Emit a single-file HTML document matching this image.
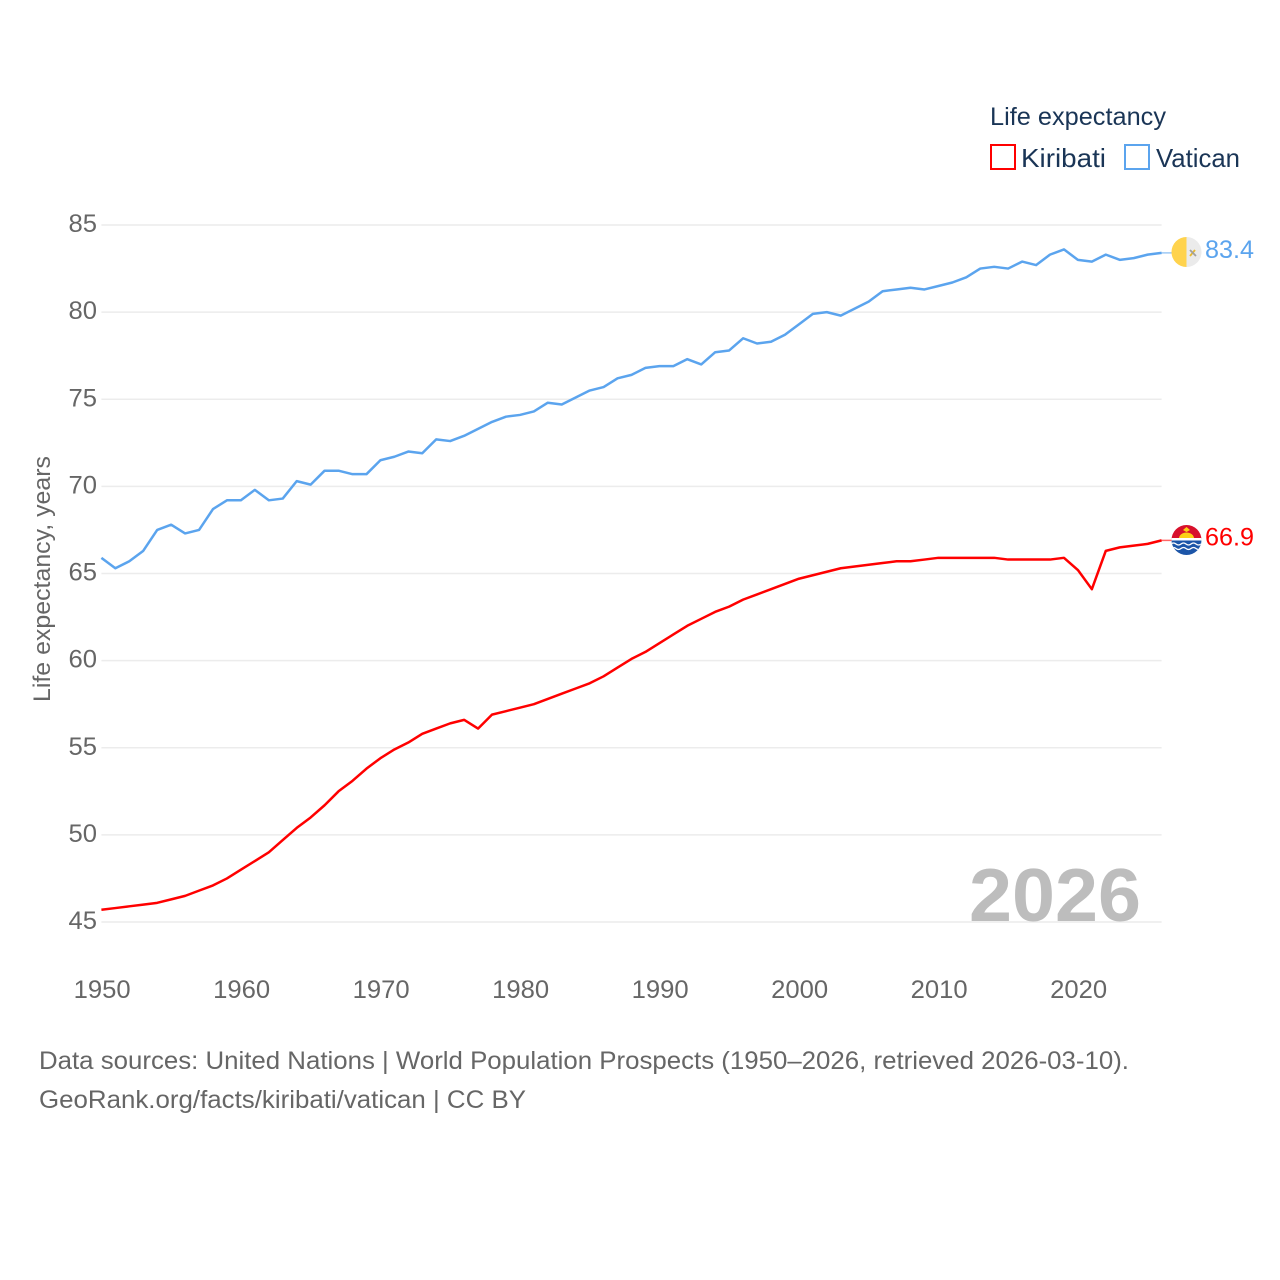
<!DOCTYPE html>
<html lang="en">
<head>
<meta charset="utf-8">
<title>Life expectancy: Kiribati and Vatican</title>
<style>
html,body{margin:0;padding:0;background:#fff;width:1280px;height:1280px;overflow:hidden}
svg{display:block}
text{font-family:"Liberation Sans",sans-serif}
</style>
</head>
<body>
<svg id="chart" xmlns="http://www.w3.org/2000/svg" width="1280" height="1280" viewBox="0 0 1280 1280">
  <defs>
    <clipPath id="flag-clip-k"><circle cx="1186.500" cy="540" r="15"/></clipPath>
    <clipPath id="flag-clip-v"><circle cx="1186.500" cy="252" r="15"/></clipPath>
  </defs>
  <rect width="1280" height="1280" fill="#fff"/>
  <g id="grid"></g>
  <g id="y-ticks"></g>
  <g id="x-ticks"></g>
  <text transform="translate(50 702) rotate(-90)" font-size="24" fill="#666" textLength="246" lengthAdjust="spacingAndGlyphs">Life expectancy, years</text>
  <text x="969" y="921" font-size="75" font-weight="700" fill="#bdbdbd" textLength="172" lengthAdjust="spacingAndGlyphs">2026</text>
  <g id="series"></g>

  <g clip-path="url(#flag-clip-v)">
    <rect x="1171" y="237" width="15.500" height="30" fill="#ffd34d"/>
    <rect x="1186.500" y="237" width="15" height="30" fill="#ebebeb"/>
    <path d="M1190 256l5-6" stroke="#e8b92e" stroke-width="1.800" fill="none"/>
    <path d="M1190 250l6 6" stroke="#a0a0a0" stroke-width="1.800" fill="none"/>
  </g>
  <g clip-path="url(#flag-clip-k)">
    <rect x="1171" y="525" width="31" height="15" fill="#d8102c"/>
    <rect x="1171" y="540" width="31" height="15" fill="#1c55a8"/>
    <path d="M1179 538.500a7.500 6 0 0 1 15 0z" fill="#fcd116"/>
    <path d="M1183 530l3.500-3 3.500 3-3.500 2z" fill="#fcd116"/>
    <rect x="1171" y="538" width="31" height="2.500" fill="#fff"/>
    <path d="M1171 544q2.500-2 5 0t5 0t5 0t5 0t5 0t5 0" stroke="#fff" stroke-width="1.300" fill="none"/>
    <path d="M1171 548.500q2.500-2 5 0t5 0t5 0t5 0t5 0t5 0" stroke="#fff" stroke-width="1.300" fill="none"/>
  </g>

  <g id="end-labels"></g>

  <g>
    <text x="990" y="125" font-size="25" fill="#1a3556" textLength="176" lengthAdjust="spacingAndGlyphs">Life expectancy</text>
    <g>
      <rect x="991" y="145" width="24" height="24" fill="none" stroke="#ff0000" stroke-width="2"/>
      <text x="1021" y="167" font-size="26" fill="#1a3556" textLength="85" lengthAdjust="spacingAndGlyphs">Kiribati</text>
    </g>
    <g>
      <rect x="1125" y="145" width="24" height="24" fill="none" stroke="#5ba4ee" stroke-width="2"/>
      <text x="1156" y="167" font-size="26" fill="#1a3556" textLength="84" lengthAdjust="spacingAndGlyphs">Vatican</text>
    </g>
  </g>

  <text x="39" y="1069" font-size="25" fill="#666" textLength="1090" lengthAdjust="spacingAndGlyphs">Data sources: United Nations | World Population Prospects (1950–2026, retrieved 2026-03-10).</text>
  <text x="39" y="1108" font-size="25" fill="#666" textLength="487" lengthAdjust="spacingAndGlyphs">GeoRank.org/facts/kiribati/vatican | CC BY</text>
</svg>
<script>
const startYear = 1950;
const xTickYears = [1950, 1960, 1970, 1980, 1990, 2000, 2010, 2020];
const yTickValues = [45, 50, 55, 60, 65, 70, 75, 80, 85];
const vaticanValues = [65.9, 65.3, 65.7, 66.3, 67.5, 67.8, 67.3, 67.5, 68.7, 69.2,
  69.2, 69.8, 69.2, 69.3, 70.3, 70.1, 70.9, 70.9, 70.7, 70.7,
  71.5, 71.7, 72.0, 71.9, 72.7, 72.6, 72.9, 73.3, 73.7, 74.0,
  74.1, 74.3, 74.8, 74.7, 75.1, 75.5, 75.7, 76.2, 76.4, 76.8,
  76.9, 76.9, 77.3, 77.0, 77.7, 77.8, 78.5, 78.2, 78.3, 78.7,
  79.3, 79.9, 80.0, 79.8, 80.2, 80.6, 81.2, 81.3, 81.4, 81.3,
  81.5, 81.7, 82.0, 82.5, 82.6, 82.5, 82.9, 82.7, 83.3, 83.6,
  83.0, 82.9, 83.3, 83.0, 83.1, 83.3, 83.4];
const kiribatiValues = [45.7, 45.8, 45.9, 46.0, 46.1, 46.3, 46.5, 46.8, 47.1, 47.5,
  48.0, 48.5, 49.0, 49.7, 50.4, 51.0, 51.7, 52.5, 53.1, 53.8,
  54.4, 54.9, 55.3, 55.8, 56.1, 56.4, 56.6, 56.1, 56.9, 57.1,
  57.3, 57.5, 57.8, 58.1, 58.4, 58.7, 59.1, 59.6, 60.1, 60.5,
  61.0, 61.5, 62.0, 62.4, 62.8, 63.1, 63.5, 63.8, 64.1, 64.4,
  64.7, 64.9, 65.1, 65.3, 65.4, 65.5, 65.6, 65.7, 65.7, 65.8,
  65.9, 65.9, 65.9, 65.9, 65.9, 65.8, 65.8, 65.8, 65.8, 65.9,
  65.2, 64.1, 66.3, 66.5, 66.6, 66.7, 66.9];

const NS = 'http://www.w3.org/2000/svg';
const plotLeft = 101.4, plotRight = 1161.6, plotBottom = 922, plotTop = 225;
const xDomainEnd = 2026, yDomainMin = 45, yDomainMax = 85;
const xScale = year => plotLeft + (year - startYear) / (xDomainEnd - startYear) * (plotRight - plotLeft);
const yScale = value => plotBottom - (value - yDomainMin) / (yDomainMax - yDomainMin) * (plotBottom - plotTop);
const make = (tag, parentId) => {
  const el = document.createElementNS(NS, tag);
  document.getElementById(parentId).appendChild(el);
  return el;
};

yTickValues.forEach(v => {
  const line = make('line', 'grid');
  
  
  line.setAttribute('x1', plotLeft);
  line.setAttribute('x2', plotRight);
  line.setAttribute('y1', yScale(v));
  line.setAttribute('y2', yScale(v));
  line.setAttribute('stroke', '#ececec');
  line.setAttribute('stroke-width', '1.5');

  const label = make('text', 'y-ticks');
  
  
  label.setAttribute('x', 97);
  label.setAttribute('y', yScale(v) + 7);
  label.setAttribute('text-anchor', 'end');
  label.setAttribute('font-size', '25');
  label.setAttribute('fill', '#666');
  label.setAttribute('textLength', '28.5');
  label.setAttribute('lengthAdjust', 'spacingAndGlyphs');
  label.textContent = v;
});

xTickYears.forEach(year => {
  const label = make('text', 'x-ticks');
  
  
  label.setAttribute('x', xScale(year) + 0.8);
  label.setAttribute('y', 998);
  label.setAttribute('text-anchor', 'middle');
  label.setAttribute('font-size', '25');
  label.setAttribute('fill', '#666');
  label.setAttribute('textLength', '57');
  label.setAttribute('lengthAdjust', 'spacingAndGlyphs');
  label.textContent = year;
});

const toPoints = values => values.map((v, i) => xScale(startYear + i).toFixed(2) + ',' + yScale(v).toFixed(2)).join(' ');
const lastValue = values => values[values.length - 1];

const vaticanLine = make('polyline', 'series');


vaticanLine.setAttribute('points', toPoints(vaticanValues));
vaticanLine.setAttribute('fill', 'none');
vaticanLine.setAttribute('stroke', '#5ba4ee');
vaticanLine.setAttribute('stroke-width', '2.5');
vaticanLine.setAttribute('stroke-linejoin', 'round');

const kiribatiLine = make('polyline', 'series');


kiribatiLine.setAttribute('points', toPoints(kiribatiValues));
kiribatiLine.setAttribute('fill', 'none');
kiribatiLine.setAttribute('stroke', '#ff0000');
kiribatiLine.setAttribute('stroke-width', '2.5');
kiribatiLine.setAttribute('stroke-linejoin', 'round');

const vaticanConnector = make('line', 'series');


vaticanConnector.setAttribute('x1', plotRight);
vaticanConnector.setAttribute('x2', plotRight + 10);
vaticanConnector.setAttribute('y1', yScale(lastValue(vaticanValues)));
vaticanConnector.setAttribute('y2', yScale(lastValue(vaticanValues)));
vaticanConnector.setAttribute('stroke', '#5ba4ee');
vaticanConnector.setAttribute('stroke-opacity', '0.6');
vaticanConnector.setAttribute('stroke-width', '1.5');

const kiribatiConnector = make('line', 'series');


kiribatiConnector.setAttribute('x1', plotRight);
kiribatiConnector.setAttribute('x2', plotRight + 10);
kiribatiConnector.setAttribute('y1', yScale(lastValue(kiribatiValues)));
kiribatiConnector.setAttribute('y2', yScale(lastValue(kiribatiValues)));
kiribatiConnector.setAttribute('stroke', '#ff0000');
kiribatiConnector.setAttribute('stroke-opacity', '0.6');
kiribatiConnector.setAttribute('stroke-width', '1.5');

const vaticanLabel = make('text', 'end-labels');


vaticanLabel.setAttribute('x', 1205);
vaticanLabel.setAttribute('y', yScale(lastValue(vaticanValues)) + 5);
vaticanLabel.setAttribute('font-size', '25');
vaticanLabel.setAttribute('fill', '#5ba4ee');
vaticanLabel.setAttribute('textLength', '49');
vaticanLabel.setAttribute('lengthAdjust', 'spacingAndGlyphs');
vaticanLabel.textContent = lastValue(vaticanValues).toFixed(1);

const kiribatiLabel = make('text', 'end-labels');


kiribatiLabel.setAttribute('x', 1205);
kiribatiLabel.setAttribute('y', yScale(lastValue(kiribatiValues)) + 5);
kiribatiLabel.setAttribute('font-size', '25');
kiribatiLabel.setAttribute('fill', '#ff0000');
kiribatiLabel.setAttribute('textLength', '49');
kiribatiLabel.setAttribute('lengthAdjust', 'spacingAndGlyphs');
kiribatiLabel.textContent = lastValue(kiribatiValues).toFixed(1);
</script>
</body>
</html>
